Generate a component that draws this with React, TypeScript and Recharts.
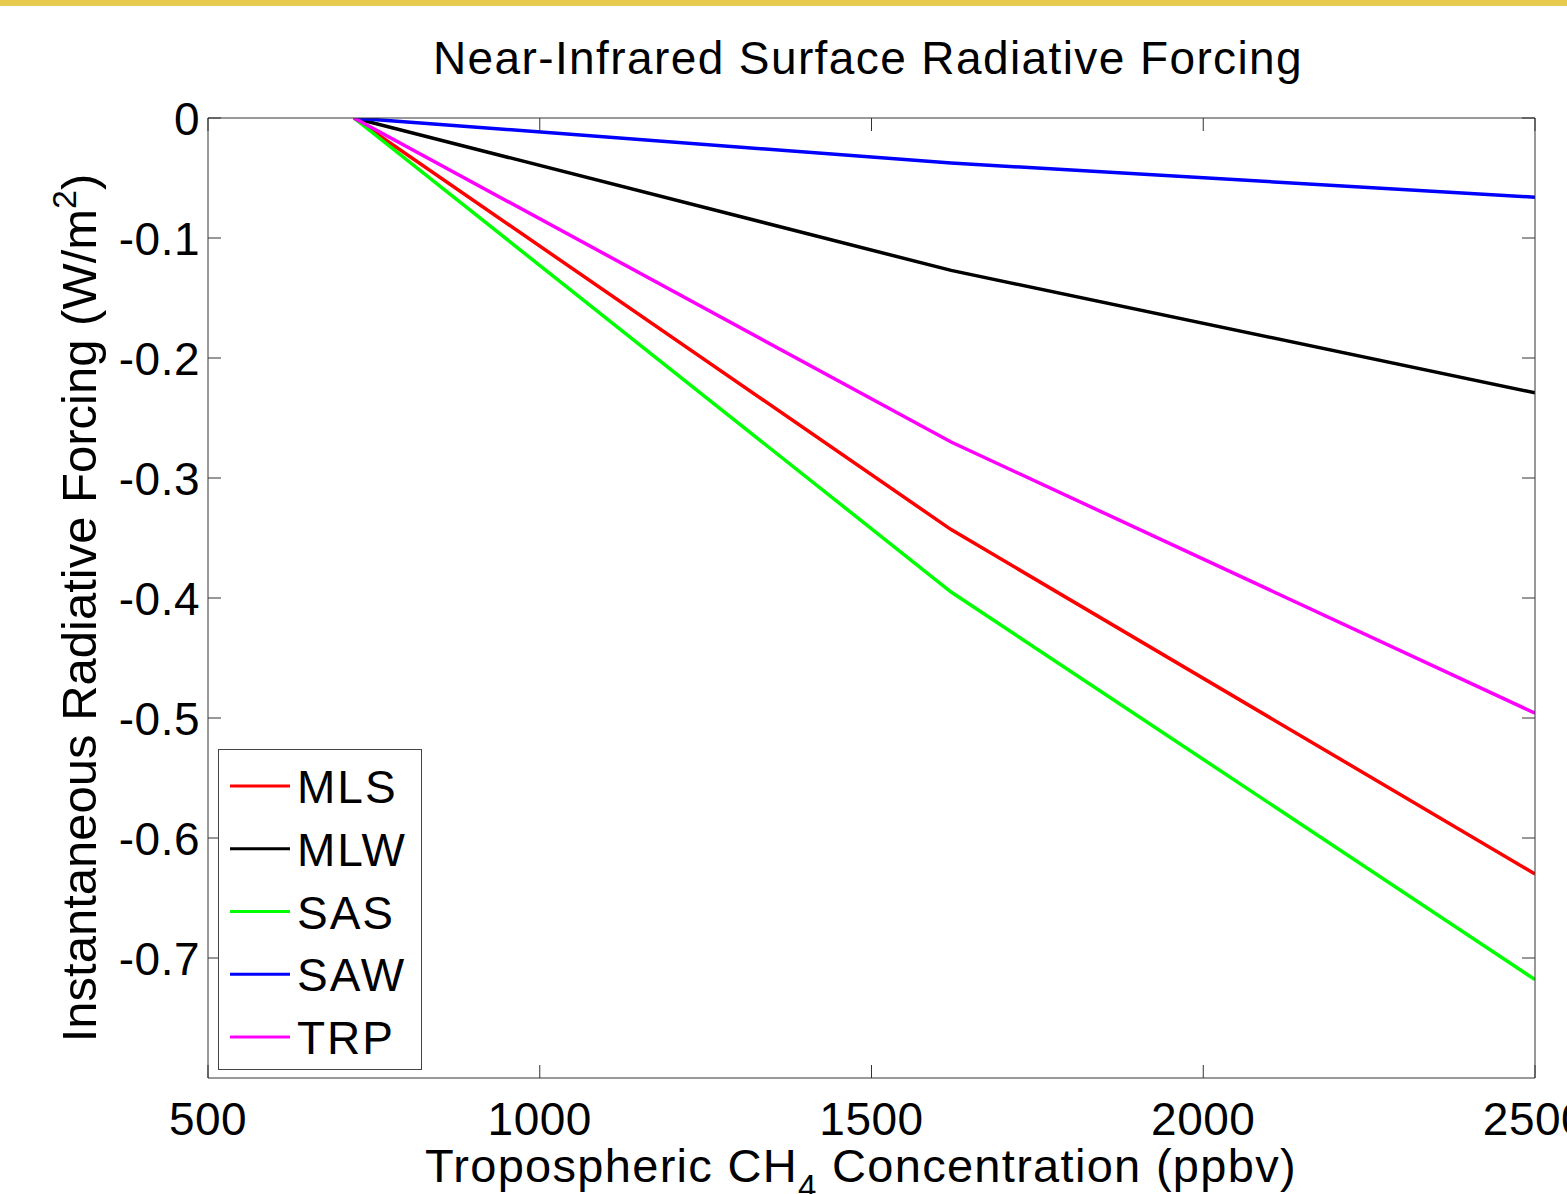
import React from 'react';
import { LineChart, Line, XAxis, YAxis, Legend } from 'recharts';

// ---- data ----
const concentrations = [720, 1620, 2500];
const seriesNames = ['MLS', 'MLW', 'SAS', 'SAW', 'TRP'];
const mlsValues = [0, -0.343, -0.63];
const mlwValues = [0, -0.127, -0.229];
const sasValues = [0, -0.395, -0.718];
const sawValues = [0, -0.0375, -0.066];
const trpValues = [0, -0.27, -0.496];
const seriesColors = ['#ff0000', '#000000', '#00ff00', '#0000ff', '#ff00ff'];
const xTicks = [500, 1000, 1500, 2000, 2500];
const yTicks = [0, -0.1, -0.2, -0.3, -0.4, -0.5, -0.6, -0.7];
const yTickLabels = ['0', '-0.1', '-0.2', '-0.3', '-0.4', '-0.5', '-0.6', '-0.7'];

const allValues = [mlsValues, mlwValues, sasValues, sawValues, trpValues];
const data = concentrations.map((c, i) => {
  const row: Record<string, number> = { c };
  seriesNames.forEach((n, k) => {
    row[n] = allValues[k][i];
  });
  return row;
});

const FONT = '"Liberation Sans", Arial, Helvetica, sans-serif';
const AXIS = '#333333';
const TICK_LEN = 13;

const LeftTick = (props: any) => {
  const { x, y, payload } = props;
  const idx = yTicks.findIndex((t) => Math.abs(t - payload.value) < 1e-9);
  const label = idx >= 0 ? yTickLabels[idx] : String(payload.value);
  const ax = x + 1;
  return (
    <g>
      <line x1={ax} y1={y} x2={ax + TICK_LEN} y2={y} stroke={AXIS} strokeWidth={1} />
      <text x={ax - 8} y={y + 17} textAnchor="end" fontFamily={FONT} fontSize={46} letterSpacing={0.5} fill="#000">
        {label}
      </text>
    </g>
  );
};

const RightTick = (props: any) => {
  const { x, y } = props;
  const ax = x - 1;
  return <line x1={ax} y1={y} x2={ax - TICK_LEN} y2={y} stroke={AXIS} strokeWidth={1} />;
};

const BottomTick = (props: any) => {
  const { x, y, payload } = props;
  const ay = y - 1;
  return (
    <g>
      <line x1={x} y1={ay} x2={x} y2={ay - TICK_LEN} stroke={AXIS} strokeWidth={1} />
      <text x={x} y={ay + 57} textAnchor="middle" fontFamily={FONT} fontSize={46} letterSpacing={0.5} fill="#000">
        {String(payload.value)}
      </text>
    </g>
  );
};

const TopTick = (props: any) => {
  const { x, y } = props;
  const ay = y + 1;
  return <line x1={x} y1={ay} x2={x} y2={ay + TICK_LEN} stroke={AXIS} strokeWidth={1} />;
};

const LegendBox = (props: any) => {
  const payload = props.payload || [];
  const rowGap = 62.75;
  return (
    <svg width={205} height={322} style={{ display: 'block', overflow: 'visible' }}>
      <rect x={0.5} y={0.5} width={203} height={320} fill="#ffffff" stroke="#444444" strokeWidth={1} />
      {payload.map((p: any, i: number) => {
        const cy = 37 + i * rowGap;
        return (
          <g key={p.value}>
            <line x1={12} x2={72} y1={cy} y2={cy} stroke={p.color} strokeWidth={3} />
            <text x={79} y={cy + 17} fontFamily={FONT} fontSize={46} letterSpacing={2} fill="#000">
              {p.value}
            </text>
          </g>
        );
      })}
    </svg>
  );
};

export default function App() {
  const W = 1567;
  const H = 1194;
  return (
    <div style={{ position: 'absolute', left: 0, top: 0, width: W, height: H, background: '#ffffff', overflow: 'hidden' }}>
      <div style={{ position: 'absolute', left: 0, top: 0, width: W, height: 6, background: '#e6cb4e' }} />
      <div style={{ position: 'absolute', left: 0, top: 0 }}>
        <LineChart width={W} height={H} data={data} margin={{ top: 117, right: 31, bottom: 115, left: 207 }}>
          <XAxis
            dataKey="c"
            type="number"
            domain={[500, 2500]}
            ticks={xTicks}
            interval={0}
            allowDataOverflow
            height={1}
            tickSize={1}
            tickMargin={0}
            tickLine={false}
            axisLine={{ stroke: AXIS, strokeWidth: 1 }}
            tick={<BottomTick />}
          />
          <XAxis
            xAxisId="top"
            orientation="top"
            dataKey="c"
            type="number"
            domain={[500, 2500]}
            ticks={xTicks}
            interval={0}
            allowDataOverflow
            height={1}
            tickSize={1}
            tickMargin={0}
            tickLine={false}
            axisLine={{ stroke: AXIS, strokeWidth: 1 }}
            tick={<TopTick />}
          />
          <YAxis
            type="number"
            domain={[-0.8, 0]}
            ticks={yTicks}
            interval={0}
            allowDataOverflow
            width={1}
            tickSize={1}
            tickMargin={0}
            tickLine={false}
            axisLine={{ stroke: AXIS, strokeWidth: 1 }}
            tick={<LeftTick />}
          />
          <YAxis
            yAxisId="right"
            orientation="right"
            type="number"
            domain={[-0.8, 0]}
            ticks={yTicks}
            interval={0}
            allowDataOverflow
            width={1}
            tickSize={1}
            tickMargin={0}
            tickLine={false}
            axisLine={{ stroke: AXIS, strokeWidth: 1 }}
            tick={<RightTick />}
          />
          {seriesNames.map((n, k) => (
            <Line
              key={n}
              type="linear"
              dataKey={n}
              name={n}
              stroke={seriesColors[k]}
              strokeWidth={3.5}
              dot={false}
              activeDot={false}
              isAnimationActive={false}
            />
          ))}
          <Legend
            layout="vertical"
            align="center"
            verticalAlign="middle"
            content={<LegendBox />}
            wrapperStyle={{ left: 218, top: 749, width: 205, height: 322, margin: 0, padding: 0 }}
          />
        </LineChart>
      </div>
      <svg width={W} height={H} style={{ position: 'absolute', left: 0, top: 0, pointerEvents: 'none' }}>
        <text x={868} y={74} textAnchor="middle" fontFamily={FONT} fontSize={46} letterSpacing={1.4} fill="#000">
          Near-Infrared Surface Radiative Forcing
        </text>
        <text x={425} y={1182} textAnchor="start" fontFamily={FONT} fontSize={47} letterSpacing={1.3} fill="#000">
          Tropospheric CH
          <tspan fontSize={33} dy={16}>4</tspan>
          <tspan dy={-16}> Concentration (ppbv)</tspan>
        </text>
        <text
          x={96}
          y={608}
          textAnchor="middle"
          transform="rotate(-90 96 608)"
          fontFamily={FONT}
          fontSize={49}
          fill="#000"
        >
          Instantaneous Radiative Forcing (W/m
          <tspan fontSize={34} dy={-20}>2</tspan>
          <tspan dy={20}>)</tspan>
        </text>
      </svg>
    </div>
  );
}
